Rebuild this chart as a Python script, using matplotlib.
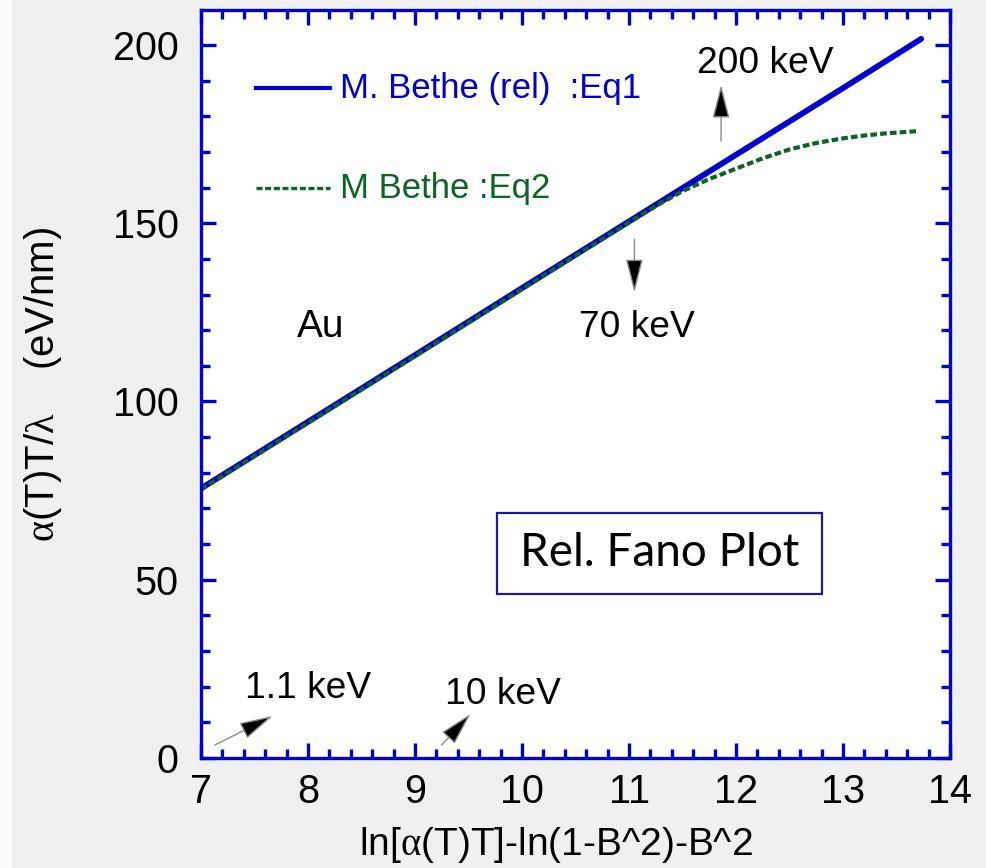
import numpy as np
import matplotlib.pyplot as plt
from matplotlib.patches import Rectangle
from matplotlib.ticker import MultipleLocator

plt.rcParams['font.family'] = ['Liberation Sans', 'DejaVu Sans']
plt.rcParams['mathtext.fontset'] = 'custom'
plt.rcParams['mathtext.rm'] = 'Liberation Serif'
plt.rcParams['mathtext.it'] = 'Liberation Serif:italic'

BLUE = '#0000d4'
GREEN = '#0b6623'

# Fano plot values (Au)
x_eq1 = [7.0, 8.0, 9.0, 10.0, 11.0, 12.0, 13.0, 13.73]
y_eq1 = [75.6, 94.3, 113.0, 131.8, 150.5, 169.2, 187.9, 201.7]

x_eq2 = [7.0, 8.0, 9.0, 10.0, 10.5, 11.0, 11.25, 11.5, 11.75, 12.0, 12.25,
         12.5, 12.75, 13.0, 13.2, 13.4, 13.69]
y_eq2 = [75.3, 94.0, 112.7, 131.5, 140.9, 150.2, 154.8, 159.0, 162.4, 165.3, 168.2,
         170.7, 172.5, 173.8, 174.6, 175.2, 175.8]

label_eq1 = 'M. Bethe (rel)  :Eq1'
label_eq2 = 'M Bethe :Eq2'

fig = plt.figure(figsize=(9.87, 8.68), dpi=100, facecolor='#f0f0f0')
ax = fig.add_axes([0.2036, 0.1267, 0.759, 0.8618])

ax.plot(x_eq1, y_eq1, color=BLUE, lw=4.2, solid_capstyle='round')
ax.plot(x_eq2, y_eq2, color=GREEN, lw=3.0, linestyle=(0, (1.6, 0.75)))

ax.set_xlim(7, 14)
ax.set_ylim(0, 209.8)
ax.xaxis.set_major_locator(MultipleLocator(1))
ax.xaxis.set_minor_locator(MultipleLocator(0.2))
ax.yaxis.set_major_locator(MultipleLocator(50))
ax.yaxis.set_minor_locator(MultipleLocator(10))

for sp in ax.spines.values():
    sp.set_color(BLUE)
    sp.set_linewidth(2.4)
ax.tick_params(which='both', direction='in', top=True, right=True,
               color=BLUE, width=2.4, labelsize=28.5)
ax.tick_params(which='major', length=11)
ax.tick_params(which='minor', length=6.5)
ax.tick_params(axis='x', pad=11)
ax.tick_params(axis='y', pad=16)

ax.set_xlabel(r'ln[$\mathrm{\alpha}$(T)T]-ln(1-B^2)-B^2', fontsize=28, labelpad=10)
ax.xaxis.label.set_x(0.474)
ax.set_ylabel(r'$\mathrm{\alpha}$(T)T/$\mathrm{\lambda}$    (eV/nm)', fontsize=29, labelpad=35)

# hand-drawn legend
ax.plot([7.51, 8.21], [187.9, 187.9], color=BLUE, lw=3.0)
ax.text(8.30, 187.9, label_eq1, color=BLUE, fontsize=25, va='center')
ax.plot([7.51, 8.21], [159.8, 159.8], color=GREEN, lw=2.4, linestyle=(0, (1.8, 0.8)))
ax.text(8.30, 159.8, label_eq2, color=GREEN, fontsize=25, va='center')

ax.text(8.12, 120.8, 'Au', fontsize=28, ha='center', va='center')

arrow = dict(arrowstyle='-|>,head_length=1.05,head_width=0.27', fc='black',
             ec='#8a8a8a', lw=1.0, mutation_scale=20, shrinkA=0, shrinkB=0)
notes = [('200 keV', (12.27, 194.7), (11.86, 173.0), (11.86, 188.8)),
         ('70 keV', (11.07, 120.8), (11.05, 145.5), (11.05, 130.6)),
         ('1.1 keV', (8.00, 19.4), (7.13, 3.65), (7.67, 11.8)),
         ('10 keV', (9.82, 17.7), (9.25, 3.65), (9.52, 12.4))]
for txt, pos, tail, tip in notes:
    ax.text(pos[0], pos[1], txt, fontsize=26.7, ha='center', va='center')
    ax.annotate('', xy=tip, xytext=tail, arrowprops=arrow)

ax.add_patch(Rectangle((0.395, 0.2195), 0.434, 0.1085, transform=ax.transAxes,
                       fill=False, ec='#1a1a9a', lw=1.6))
ax.text(0.612, 0.274, 'Rel. Fano Plot', transform=ax.transAxes, fontsize=33,
        family='Lato', ha='center', va='center')

# light strip at the left edge
fig.patches.append(Rectangle((0, 0), 0.012, 1, transform=fig.transFigure,
                             fc='#fbfbfb', ec='none'))

fig.savefig('out.png', dpi=100, facecolor=fig.get_facecolor())
